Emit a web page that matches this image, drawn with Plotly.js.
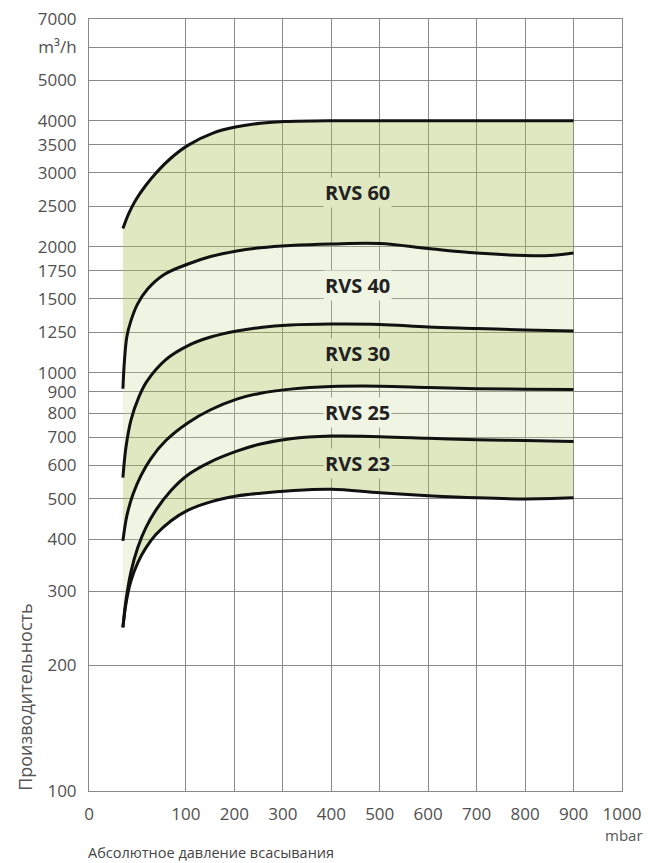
<!DOCTYPE html>
<html>
<head>
<meta charset="utf-8">
<script src="https://cdn.plot.ly/plotly-3.0.1.min.js"></script>
<style>html,body{margin:0;padding:0;background:#fff;}#chart{width:648px;height:863px;}</style>
</head>
<body>
<div id="chart"></div>
<script>
// ---- data (x in mbar, y in m3/h) ----
const rvs60X = [35, 41.2, 48.4, 58.7, 69, 84.4, 104, 157, 205, 254, 304, 400, 500, 600, 700, 800, 900];
const rvs60Y = [2211, 2406, 2589, 2804, 2996, 3253, 3492, 3741, 3867, 3942, 3981, 4000, 4000, 4000, 4000, 4000, 4000];

const rvs40X = [35, 36.6, 39.1, 43.3, 50.2, 60.5, 77.6, 104.5, 151, 205, 254, 316, 400, 500, 600, 700, 800, 850, 900];
const rvs40Y = [915, 1069, 1219, 1331, 1460, 1584, 1716, 1818, 1894, 1953, 1988, 2013, 2030, 2035, 1980, 1931, 1905, 1905, 1931];

const rvs30X = [35, 38.1, 43.3, 51.5, 59.7, 79.3, 104.5, 151, 205, 254, 316, 400, 500, 600, 700, 800, 900];
const rvs30Y = [561, 662, 770, 875, 953, 1074, 1160, 1216, 1257, 1282, 1299, 1306, 1303, 1285, 1275, 1264, 1257];

const rvs25X = [35, 39.1, 45.3, 53.6, 63.9, 79.3, 104.5, 151, 205, 254, 316, 400, 500, 600, 700, 800, 900];
const rvs25Y = [396, 455, 511, 567, 623, 688, 759, 815, 864, 893, 913, 926, 928, 921, 915, 913, 911];

const rvs23X = [35, 38.1, 43.3, 50.5, 58.7, 69, 84.4, 104.5, 151, 205, 254, 316, 400, 500, 600, 700, 800, 900];
const rvs23Y = [246, 285, 334, 383, 426, 469, 522, 570, 612, 649, 675, 695, 705, 703, 697, 691, 688, 684];

const baseX = [35, 38.1, 43.3, 50.5, 58.7, 69, 84.4, 104.5, 151, 205, 254, 316, 400, 500, 600, 700, 800, 900];
const baseY = [246, 280, 318, 352, 381, 410, 442, 469, 491, 507, 515, 522, 526, 516, 508, 502, 499, 502];

const labelNames = ['RVS 60', 'RVS 40', 'RVS 30', 'RVS 25', 'RVS 23'];
const labelX = [454, 454, 454, 454, 454];
const labelY = [2696, 1615, 1110, 802, 606];

const xTickVals = [0, 100, 200, 300, 400, 500, 600, 700, 800, 900, 1000];
const xTickText = ['0', '100', '200', '300', '400', '500', '600', '700', '800', '900', '1000'];
const yTickVals = [100, 200, 300, 400, 500, 600, 700, 800, 900, 1000, 1250, 1500, 1750, 2000, 2500, 3000, 3500, 4000, 5000, 6000, 7000];
const yTickText = ['100', '200', '300', '400', '500', '600', '700', '800', '900', '1000', '1250', '1500', '1750', '2000', '2500', '3000', '3500', '4000', '5000', 'm³/h', '7000'];

// ---- scale: the first 0..100 mbar segment is drawn twice as wide ----
const pos = m => (m <= 100 ? 2 * m - 100 : m);
const P = arr => arr.map(pos);

const DARK = 'rgba(168,190,85,0.36)';
const LIGHT = 'rgba(200,215,150,0.28)';
const DARK_OPAQUE = '#e0e8c2';
const LIGHT_OPAQUE = '#f0f4e2';

const curves = [
  {x: baseX, y: baseY, fill: 'none', fc: null},
  {x: rvs23X, y: rvs23Y, fill: 'tonexty', fc: DARK},
  {x: rvs25X, y: rvs25Y, fill: 'tonexty', fc: LIGHT},
  {x: rvs30X, y: rvs30Y, fill: 'tonexty', fc: DARK},
  {x: rvs40X, y: rvs40Y, fill: 'tonexty', fc: LIGHT},
  {x: rvs60X, y: rvs60Y, fill: 'tonexty', fc: DARK}
];

const traces = [];
curves.forEach(c => {
  traces.push({
    type: 'scatter', mode: 'lines', x: P(c.x), y: c.y,
    line: {width: 0, shape: 'spline', smoothing: 1, color: 'rgba(0,0,0,0)'},
    fill: c.fill, fillcolor: c.fc || 'rgba(0,0,0,0)',
    hoverinfo: 'skip', showlegend: false
  });
});
curves.forEach(c => {
  traces.push({
    type: 'scatter', mode: 'lines', x: P(c.x), y: c.y,
    line: {width: 3, shape: 'spline', smoothing: 1, color: '#111'},
    hoverinfo: 'skip', showlegend: false
  });
});

const bg = [DARK_OPAQUE, LIGHT_OPAQUE, DARK_OPAQUE, LIGHT_OPAQUE, DARK_OPAQUE];
const annotations = labelNames.map((t, i) => ({
  text: t, x: pos(labelX[i]), y: Math.log10(labelY[i]), xref: 'x', yref: 'y',
  showarrow: false, bgcolor: bg[i], borderpad: 1,
  font: {family: 'Open Sans', size: 20, color: '#222', weight: 700}
}));
annotations.push({
  text: 'Производительность', textangle: -90, xref: 'paper', yref: 'paper',
  x: -0.12, y: -0.003, xanchor: 'center', yanchor: 'bottom', showarrow: false,
  font: {family: 'Open Sans', size: 18, color: '#555'}
});
annotations.push({
  text: 'Абсолютное давление всасывания', xref: 'paper', yref: 'paper',
  x: -0.006, y: -0.08, xanchor: 'left', yanchor: 'middle', showarrow: false,
  font: {family: 'Open Sans', size: 14.5, color: '#444'}
});
annotations.push({
  text: 'mbar', xref: 'paper', yref: 'paper',
  x: 1.043, y: -0.057, xanchor: 'right', yanchor: 'middle', showarrow: false,
  font: {family: 'Open Sans', size: 15, color: '#555'}
});

const GRID = '#8a8a8a';
const layout = {
  width: 648, height: 863,
  margin: {l: 89, r: 26, t: 19, b: 72},
  paper_bgcolor: '#fff', plot_bgcolor: '#fff',
  showlegend: false,
  xaxis: {
    range: [-100, 1000], tickmode: 'array', tickvals: P(xTickVals), ticktext: xTickText,
    showgrid: true, gridcolor: GRID, gridwidth: 1, zeroline: false,
    showline: true, linecolor: GRID, linewidth: 1, mirror: true,
    ticks: 'outside', ticklen: 8, tickcolor: 'rgba(0,0,0,0)',
    tickfont: {family: 'Open Sans', size: 17, color: '#505050'}, fixedrange: true
  },
  yaxis: {
    type: 'log', range: [2, Math.log10(7000)], tickmode: 'array', tickvals: yTickVals, ticktext: yTickText,
    showgrid: true, gridcolor: GRID, gridwidth: 1, zeroline: false,
    showline: true, linecolor: GRID, linewidth: 1, mirror: true,
    ticks: 'outside', ticklen: 8, tickcolor: 'rgba(0,0,0,0)',
    tickfont: {family: 'Open Sans', size: 17, color: '#505050'}, fixedrange: true
  },
  annotations: annotations
};

Plotly.newPlot('chart', traces, layout, {displayModeBar: false, staticPlot: true});
</script>
</body>
</html>
